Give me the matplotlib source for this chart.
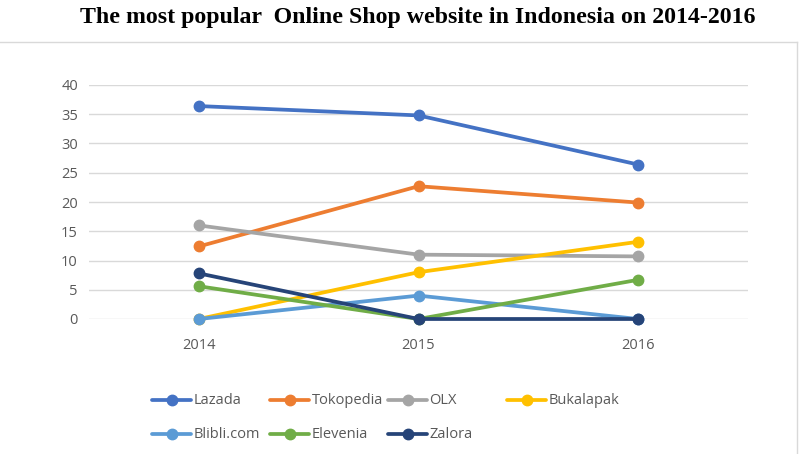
import matplotlib
matplotlib.use("Agg")
import matplotlib.pyplot as plt
from matplotlib.lines import Line2D

years = ["2014", "2015", "2016"]
series_names = ["Lazada", "Tokopedia", "OLX", "Bukalapak", "Blibli.com", "Elevenia", "Zalora"]
lazada = [36.4, 34.8, 26.4]
tokopedia = [12.4, 22.7, 19.9]
olx = [16.0, 11.0, 10.7]
bukalapak = [0.0, 8.0, 13.2]
blibli = [0.0, 4.0, 0.0]
elevenia = [5.6, 0.0, 6.7]
zalora = [7.8, 0.0, 0.0]
yticks = [0, 5, 10, 15, 20, 25, 30, 35, 40]

values = [lazada, tokopedia, olx, bukalapak, blibli, elevenia, zalora]
colors = ["#4472C4", "#ED7D31", "#A5A5A5", "#FFC000", "#5B9BD5", "#70AD47", "#264478"]

W, H = 800, 454
fig = plt.figure(figsize=(8, 4.54), dpi=100)
ax = fig.add_axes([89 / W, 1 - 319 / H, (748 - 89) / W, (319 - 85) / H])

x = list(range(len(years)))
for vals, c in zip(values, colors):
    ax.plot(x, vals, color=c, lw=2.7, marker="o", markersize=7.5,
            solid_capstyle="round", zorder=3, clip_on=False)

ax.set_xlim(-0.5, 2.5)
ax.set_ylim(0, 40)
ax.set_yticks(yticks)
ax.set_xticks(x)
ax.set_xticklabels(years)
ax.yaxis.grid(True, color="#D9D9D9", lw=1.0)
ax.set_axisbelow(True)
for s in ax.spines.values():
    s.set_visible(False)
ax.tick_params(length=0, labelsize=10.5, labelcolor="#595959", pad=8)
ax.tick_params(axis="x", pad=14)
for lab in ax.get_xticklabels() + ax.get_yticklabels():
    lab.set_fontfamily("Open Sans")

# frame of chart area
fig.add_artist(Line2D([0, 797 / W], [1 - 42 / H, 1 - 42 / H], transform=fig.transFigure,
                      color="#D9D9D9", lw=1.0))
fig.add_artist(Line2D([797 / W, 797 / W], [1 - 42 / H, 0], transform=fig.transFigure,
                      color="#D9D9D9", lw=1.0))

fig.text(418 / W, 1 - 18 / H, "The most popular  Online Shop website in Indonesia on 2014-2016",
         ha="center", va="center", fontsize=17.2, fontweight="bold",
         family="Liberation Serif")

# legend
legend_pos = [(152, 400), (270, 400), (388, 400), (507, 400),
              (152, 434), (270, 434), (388, 434)]
for name, c, (lx, ly) in zip(series_names, colors, legend_pos):
    yy = 1 - ly / H
    fig.add_artist(Line2D([lx / W, (lx + 39) / W], [yy, yy], transform=fig.transFigure,
                          color=c, lw=2.7, solid_capstyle="round"))
    fig.add_artist(Line2D([(lx + 20) / W], [yy], transform=fig.transFigure,
                          color=c, marker="o", markersize=7.5, lw=0))
    fig.text((lx + 41.5) / W, yy, name, ha="left", va="center", fontsize=10.5,
             color="#595959", family="Open Sans")

fig.savefig("out.png", dpi=100)
